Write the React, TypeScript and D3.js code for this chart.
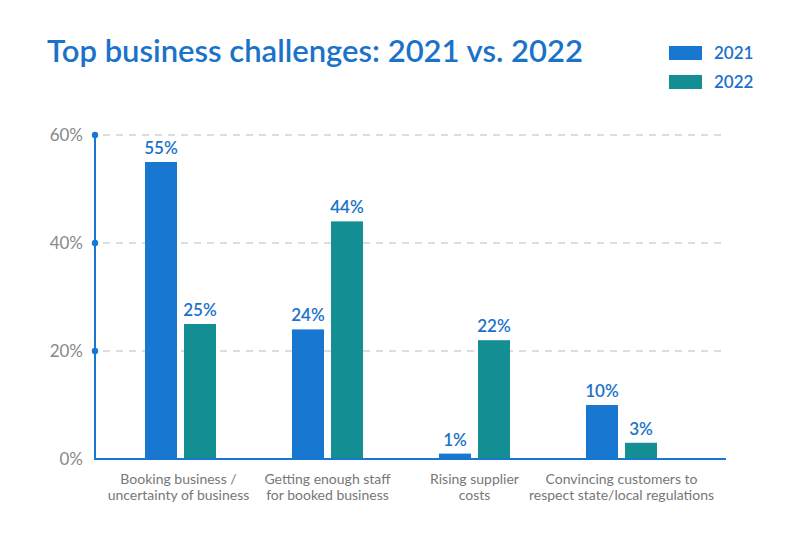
import React from "react";
import * as d3 from "d3";

const categories = [
  ["Booking business /", "uncertainty of business"],
  ["Getting enough staff", "for booked business"],
  ["Rising supplier", "costs"],
  ["Convincing customers to", "respect state/local regulations"],
];
const series2021 = [55, 24, 1, 10];
const series2022 = [25, 44, 22, 3];
const seriesNames = ["2021", "2022"];
const yTicks = [0, 20, 40, 60];

const W = 800, H = 544;
const BLUE = "#1777d1";
const TEAL = "#138f94";
const FONT = "Lato, 'Noto Sans', sans-serif";

export default function App() {
  const y = d3.scaleLinear().domain([0, 60]).range([459, 135]);
  const x0 = d3.scaleBand<number>().domain(d3.range(categories.length)).range([107, 695]).paddingInner(0);
  const x1 = d3.scaleBand<string>().domain(seriesNames).range([38, 109]).paddingInner(0.18);
  const colors = [BLUE, TEAL];
  const data = [series2021, series2022];

  return (
    <svg width={W} height={H} style={{ display: "block", position: "absolute", left: 0, top: 0 }} fontFamily={FONT}>
      <rect width={W} height={H} fill="#fff" />
      <text x={47} y={62} fontSize={31} fontWeight={600} fill="#1a73c9">Top business challenges: 2021 vs. 2022</text>
      {seriesNames.map((s, i) => (
        <g key={s}>
          <rect x={669} y={46 + i * 29} width={33} height={14} fill={colors[i]} />
          <text x={714} y={59 + i * 29} fontSize={17} fontWeight={600} fill="#1a73c9">{s}</text>
        </g>
      ))}
      {yTicks.filter(t => t > 0).map(t => (
        <line key={t} x1={103} x2={726} y1={y(t)} y2={y(t)} stroke="#dddddd" strokeWidth={2} strokeDasharray="7,6" />
      ))}
      {yTicks.map(t => (
        <text key={t} x={83} y={y(t) + 6} textAnchor="end" fontSize={17} fill="#888">{t}%</text>
      ))}
      {categories.map((c, ci) => (
        <g key={ci} transform={`translate(${x0(ci)},0)`}>
          {seriesNames.map((s, si) => {
            const v = data[si][ci];
            const bx = x1(s)!;
            return (
              <g key={s}>
                <rect x={bx} y={y(v)} width={x1.bandwidth()} height={y(0) - y(v)} fill={colors[si]} />
                <text x={bx + x1.bandwidth() / 2} y={y(v) - 8} textAnchor="middle" fontSize={17} fontWeight={600} fill="#1a73c9">{v}%</text>
              </g>
            );
          })}
          {c.map((line, li) => (
            <text key={li} x={x0.bandwidth() / 2 + (ci === 0 ? -2 : 0)} y={484 + li * 16} textAnchor="middle" fontSize={14} fill="#777">{line}</text>
          ))}
        </g>
      ))}
      <line x1={95} x2={95} y1={y(60)} y2={y(0)} stroke={BLUE} strokeWidth={2} />
      <line x1={94} x2={726} y1={y(0)} y2={y(0)} stroke={BLUE} strokeWidth={2} />
      {yTicks.filter(t => t > 0).map(t => (
        <circle key={t} cx={95} cy={y(t)} r={3.2} fill={BLUE} />
      ))}
    </svg>
  );
}
